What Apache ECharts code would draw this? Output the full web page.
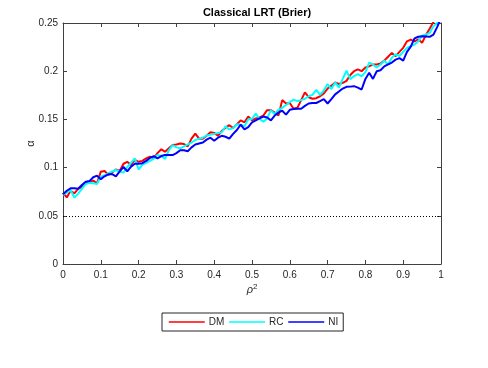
<!DOCTYPE html>
<html>
<head>
<meta charset="utf-8">
<script src="https://cdn.jsdelivr.net/npm/echarts@6/dist/echarts.min.js"></script>
<style>html,body{margin:0;padding:0;background:#fff;}#c{width:488px;height:368px;}</style>
</head>
<body>
<div id="c"></div>
<script>
// rho^2 grid (0 to 1, step 0.01)
var rho2 = [];
for (var i = 0; i <= 100; i++) rho2.push(+(i / 100).toFixed(2));

var DM = [
0.0739,0.0690,0.0760,0.0733,0.0780,0.0800,0.0837,0.0850,0.0865,0.0837,
0.0958,0.0965,0.0924,0.0950,0.0980,0.0965,0.1040,0.1060,0.1027,0.1080,
0.1060,0.1070,0.1096,0.1113,0.1096,0.1150,0.1190,0.1165,0.1200,0.1234,
0.1240,0.1250,0.1244,0.1220,0.1300,0.1352,0.1300,0.1300,0.1330,0.1366,
0.1360,0.1330,0.1380,0.1414,0.1440,0.1410,0.1450,0.1490,0.1470,0.1530,
0.1490,0.1510,0.1520,0.1540,0.1596,0.1596,0.1570,0.1540,0.1700,0.1665,
0.1670,0.1610,0.1620,0.1700,0.1780,0.1730,0.1714,0.1720,0.1740,0.1770,
0.1820,0.1850,0.1884,0.1867,0.1880,0.1900,0.1960,0.2000,0.2020,0.2000,
0.2039,0.2050,0.2070,0.2070,0.2080,0.2110,0.2150,0.2190,0.2156,0.2200,
0.2242,0.2310,0.2327,0.2310,0.2330,0.2294,0.2375,0.2440,0.2510,0.2560,
0.2600];

var RC = [
0.0716,0.0740,0.0767,0.0690,0.0730,0.0780,0.0830,0.0843,0.0837,0.0830,
0.0906,0.0920,0.0940,0.0960,0.0975,0.0960,0.0948,0.1006,0.1050,0.1096,
0.0980,0.1030,0.1050,0.1070,0.1090,0.1130,0.1120,0.1090,0.1180,0.1234,
0.1210,0.1200,0.1220,0.1240,0.1260,0.1286,0.1300,0.1310,0.1333,0.1340,
0.1350,0.1360,0.1366,0.1430,0.1396,0.1410,0.1450,0.1445,0.1430,0.1500,
0.1507,0.1560,0.1504,0.1477,0.1510,0.1596,0.1554,0.1600,0.1620,0.1650,
0.1680,0.1705,0.1690,0.1700,0.1714,0.1740,0.1755,0.1807,0.1755,0.1800,
0.1867,0.1815,0.1884,0.1830,0.1920,0.2005,0.1918,0.1950,0.1970,0.1946,
0.1990,0.2090,0.2070,0.2039,0.2070,0.2108,0.2070,0.2140,0.2175,0.2158,
0.2200,0.2242,0.2260,0.2276,0.2310,0.2369,0.2380,0.2396,0.2465,0.2500,
0.2560];

var NI = [
0.0723,0.0760,0.0785,0.0785,0.0780,0.0820,0.0854,0.0860,0.0900,0.0916,
0.0880,0.0910,0.0930,0.0933,0.0910,0.0960,0.1006,0.0962,0.1010,0.1040,
0.1040,0.1046,0.1070,0.1100,0.1120,0.1096,0.1120,0.1130,0.1130,0.1130,
0.1150,0.1180,0.1180,0.1170,0.1210,0.1240,0.1250,0.1260,0.1290,0.1310,
0.1279,0.1310,0.1330,0.1320,0.1300,0.1350,0.1390,0.1445,0.1396,0.1420,
0.1470,0.1490,0.1510,0.1530,0.1520,0.1490,0.1540,0.1570,0.1590,0.1550,
0.1600,0.1608,0.1610,0.1610,0.1640,0.1665,0.1670,0.1670,0.1690,0.1710,
0.1665,0.1710,0.1760,0.1790,0.1820,0.1838,0.1840,0.1845,0.1830,0.1810,
0.1920,0.1985,0.1920,0.2000,0.2010,0.2050,0.2070,0.2090,0.2120,0.2135,
0.2110,0.2200,0.2255,0.2340,0.2357,0.2363,0.2360,0.2357,0.2380,0.2460,
0.2550];

var refLevel = 0.05;
var seriesNames = ['DM', 'RC', 'NI'];
var seriesColors = ['#ff0000', '#00ffff', '#0000ff'];
var seriesValues = [DM, RC, NI];

function pairs(vals) {
  return vals.map(function (v, i) { return [rho2[i], v]; });
}

var axisColor = '#404040';
var textColor = '#262626';
var font = 'Liberation Sans, Arial, Helvetica, sans-serif';

var chart = echarts.init(document.getElementById('c'), null, {renderer: 'canvas'});

var series = seriesNames.map(function (name, k) {
  var s = {
    name: name,
    type: 'line',
    data: pairs(seriesValues[k]),
    symbol: 'none',
    showSymbol: false,
    clip: true,
    lineStyle: {color: seriesColors[k], width: 2},
    itemStyle: {color: seriesColors[k]},
    animation: false,
    z: 3 + k
  };
  if (k === 0) {
    s.markLine = {
      silent: true,
      symbol: 'none',
      label: {show: false},
      lineStyle: {color: '#000', type: [1, 2], width: 1},
      data: [{yAxis: refLevel}],
      animation: false
    };
  }
  return s;
});

function axisBase(extra) {
  return Object.assign({
    type: 'value',
    axisLine: {show: true, onZero: false, lineStyle: {color: axisColor, width: 1}},
    axisTick: {show: true, inside: true, length: 4, lineStyle: {color: axisColor}},
    splitLine: {show: false}
  }, extra);
}

chart.setOption({
  animation: false,
  backgroundColor: '#fff',
  title: {
    text: 'Classical LRT (Brier)',
    left: 252, top: 2, textAlign: 'center',
    textStyle: {fontFamily: font, fontSize: 11, fontWeight: 'bold', color: '#000'}
  },
  grid: {left: 63, right: 47, top: 23, bottom: 104, containLabel: false},
  legend: {
    data: seriesNames,
    left: 162, top: 313,
    orient: 'horizontal',
    itemWidth: 36, itemHeight: 10, itemGap: 4,
    padding: [4, 5, 4, 6],
    borderColor: '#262626', borderWidth: 1,
    backgroundColor: '#fff',
    itemStyle: {opacity: 0},
    lineStyle: {width: 1.5},
    textStyle: {fontFamily: font, fontSize: 10, color: textColor, padding: [0, 0, 0, -1]}
  },
  xAxis: [
    axisBase({
      min: 0, max: 1, interval: 0.1,
      position: 'bottom',
      name: '{r|ρ}{s|2}', nameLocation: 'middle', nameGap: 19,
      nameMoveOverlap: false,
      nameTextStyle: {fontFamily: font, fontSize: 11, color: textColor,
        rich: {
          r: {fontFamily: font, fontSize: 11, fontStyle: 'italic', color: textColor},
          s: {fontFamily: font, fontSize: 8, color: textColor, verticalAlign: 'top', padding: [0, 0, 6, 0]}
        }},
      axisLabel: {show: true, margin: 6, fontFamily: font, fontSize: 10, color: textColor}
    }),
    axisBase({min: 0, max: 1, interval: 0.1, position: 'top', axisLabel: {show: false}})
  ],
  yAxis: [
    axisBase({
      min: 0, max: 0.25, interval: 0.05,
      position: 'left',
      name: 'α', nameLocation: 'middle', nameGap: 27, nameRotate: 90,
      nameMoveOverlap: false,
      nameTextStyle: {fontFamily: font, fontSize: 11, color: textColor},
      axisLabel: {show: true, margin: 5, fontFamily: font, fontSize: 10, color: textColor}
    }),
    axisBase({min: 0, max: 0.25, interval: 0.05, position: 'right', axisLabel: {show: false}})
  ],
  series: series
});
</script>
</body>
</html>
